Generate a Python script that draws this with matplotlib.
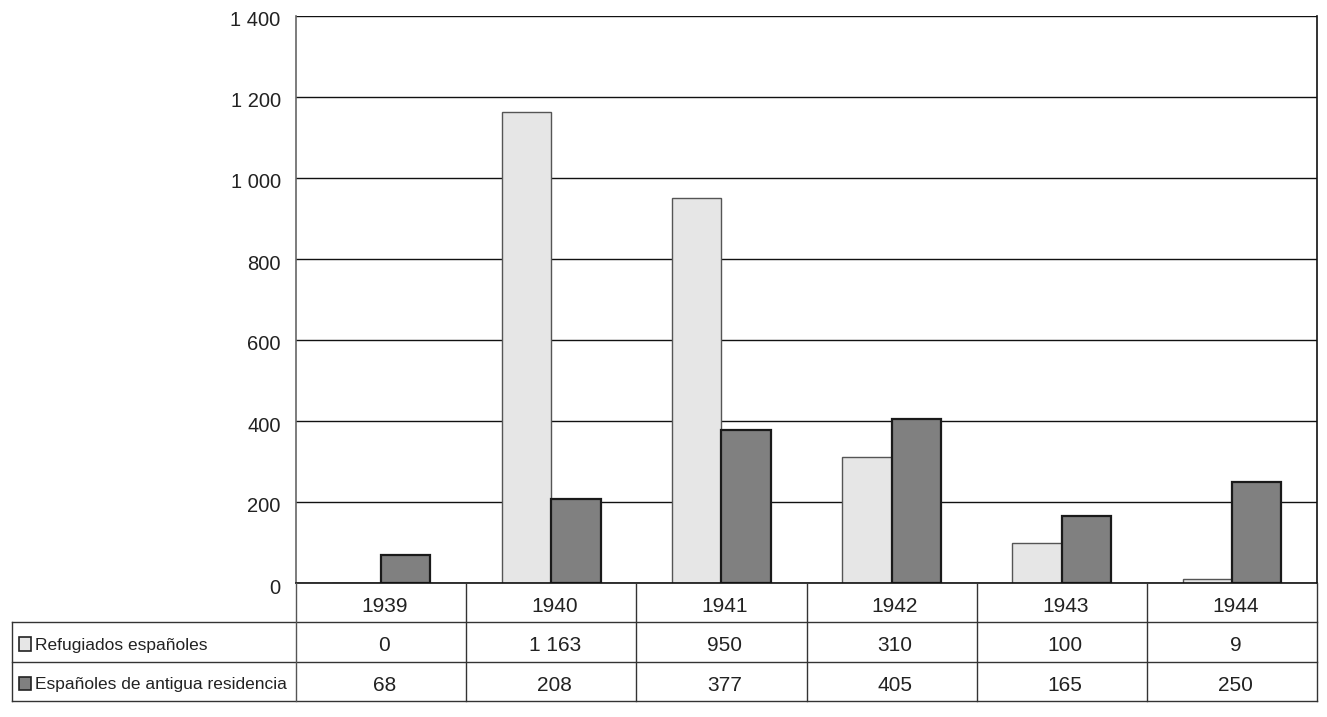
import matplotlib
matplotlib.use("Agg")
import matplotlib.pyplot as plt
import matplotlib.transforms as mtransforms
import numpy as np

years = ["1939", "1940", "1941", "1942", "1943", "1944"]
refugiados = [0, 1163, 950, 310, 100, 9]
antigua = [68, 208, 377, 405, 165, 250]
series_labels = ["Refugiados españoles", "Españoles de antigua residencia"]
yticks = [0, 200, 400, 600, 800, 1000, 1200, 1400]

def fmt(v):
    return f"{v:,}".replace(",", " ")

plt.rcParams['font.family'] = ['Liberation Sans', 'DejaVu Sans']

W, H = 1327, 717
fig = plt.figure(figsize=(W / 100, H / 100), dpi=100)

def rect(x0, y0, x1, y1):
    return [x0 / W, 1 - y1 / H, (x1 - x0) / W, (y1 - y0) / H]

ax = fig.add_axes(rect(296, 16, 1317, 583))
x = np.arange(len(years))
bw = 0.29
light = "#e6e6e6"
dark = "#808080"
ax.bar(x - bw / 2, refugiados, bw, color=light, edgecolor="#555555", linewidth=1.0, zorder=3)
ax.bar(x + bw / 2, antigua, bw, color=dark, edgecolor="#1a1a1a", linewidth=1.6, zorder=3)
ax.set_xlim(-0.5, len(years) - 0.5)
ax.set_ylim(0, 1400)
ax.set_yticks(yticks)
ax.set_yticklabels([fmt(v) for v in yticks], fontsize=14.5, color="#222222")
ax.tick_params(axis="y", length=0, pad=11)
offset = mtransforms.ScaledTranslation(0, -3 / 100, fig.dpi_scale_trans)
for lbl in ax.get_yticklabels():
    lbl.set_transform(lbl.get_transform() + offset)
ax.set_xticks([])
ax.yaxis.grid(True, color="#111111", linewidth=1.0, zorder=0)
for s in ["top", "bottom"]:
    ax.spines[s].set_visible(False)
ax.spines["left"].set_color("#666666")
ax.spines["right"].set_color("#111111")
ax.spines["left"].set_linewidth(1.2)
ax.spines["right"].set_linewidth(1.2)

# Data table axes, aligned to the category scale of the chart
cat_px = (1317 - 296) / len(years)
left_ext = -0.5 - (296 - 12) / cat_px
tax = fig.add_axes(rect(12, 583, 1317, 701))
tax.set_xlim(left_ext, len(years) - 0.5)
tax.set_ylim(3, 0)
tax.axis("off")
lc = "#333333"
lw = 1.0
tax.plot([-0.5, len(years) - 0.5], [0, 0], color="#111111", lw=1.2, clip_on=False)
for r in [1, 2, 3]:
    tax.plot([left_ext, len(years) - 0.5], [r, r], color=lc, lw=lw, clip_on=False)
tax.plot([left_ext, left_ext], [1, 3], color=lc, lw=lw, clip_on=False)
for b in np.arange(len(years) + 1) - 0.5:
    tax.plot([b, b], [0, 3], color="#555555" if b == -0.5 else lc, lw=lw, clip_on=False)

fs = 15
for i, yr in enumerate(years):
    tax.text(i + 0.02, 0.6, yr, ha="center", va="center", fontsize=fs, color="#222222")
    tax.text(i + 0.02, 1.6, fmt(refugiados[i]), ha="center", va="center", fontsize=fs, color="#222222")
    tax.text(i + 0.02, 2.6, fmt(antigua[i]), ha="center", va="center", fontsize=fs, color="#222222")

key_w = 12 / cat_px
for r, (lab, col) in enumerate(zip(series_labels, [light, dark])):
    kx = left_ext + 7 / cat_px
    tax.add_patch(plt.Rectangle((kx, r + 1.55 - 0.17), key_w, 0.34, facecolor=col,
                                edgecolor="#222222", lw=1.2, clip_on=False))
    tax.text(kx + key_w + 4 / cat_px, r + 1.58, lab, ha="left", va="center",
             fontsize=12.5, color="#222222")

fig.savefig("out.png", dpi=100)
